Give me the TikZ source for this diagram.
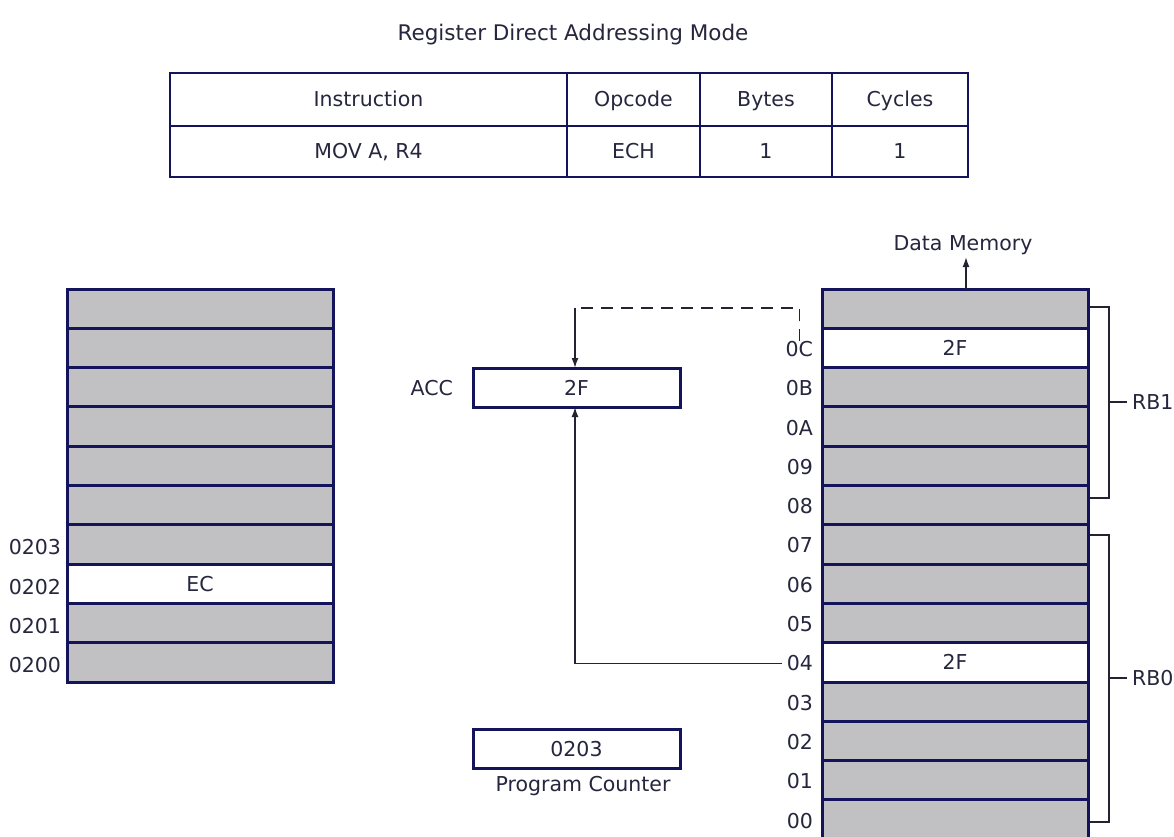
\documentclass[tikz,border=0pt]{standalone}
\usepackage{fontspec}
\setmainfont{DejaVu Sans}
\usetikzlibrary{arrows.meta,calc}
\definecolor{navy}{RGB}{20,20,90}
\definecolor{cellgray}{RGB}{193,193,196}
\definecolor{txt}{RGB}{38,38,62}
\definecolor{wire}{RGB}{35,35,50}
\begin{document}
\begin{tikzpicture}[x=1pt,y=-1pt,
  every node/.style={font=\fontsize{20.5}{24}\selectfont, text=txt, inner sep=0pt, outer sep=0pt, text height=15pt, text depth=0pt},
  tcell/.style={draw=navy, line width=2.8pt, fill=white},
  gcell/.style={draw=navy, line width=3pt, fill=cellgray, minimum width=266pt, minimum height=39.3pt},
  wcell/.style={gcell, fill=white},
  regbox/.style={draw=navy, line width=3pt, fill=white, minimum width=207pt, minimum height=39pt},
  wirel/.style={draw=wire, line width=1.6pt},
  arr/.style={wirel, -{Latex[length=10pt,width=7pt]}}
]
\useasboundingbox[fill=white] (0,0) rectangle (1174,837);

% title
\node[font=\fontsize{21.5}{25}\selectfont] (title) at (573,33) {Register Direct Addressing Mode};

% table
\node[tcell, minimum width=397pt, minimum height=53pt] (h1) at (368.5,99.5) {Instruction};
\node[tcell, minimum width=133pt, minimum height=53pt] (h2) at (633.5,99.5) {Opcode};
\node[tcell, minimum width=132pt, minimum height=53pt] (h3) at (766,99.5) {Bytes};
\node[tcell, minimum width=136pt, minimum height=53pt] (h4) at (900,99.5) {Cycles};
\node[tcell, minimum width=397pt, minimum height=51pt] (r1) at (368.5,151.5) {MOV A, R4};
\node[tcell, minimum width=133pt, minimum height=51pt] (r2) at (633.5,151.5) {ECH};
\node[tcell, minimum width=132pt, minimum height=51pt] (r3) at (766,151.5) {1};
\node[tcell, minimum width=136pt, minimum height=51pt] (r4) at (900,151.5) {1};

% program memory (left)
\foreach \i in {0,...,9} {
  \node[gcell] (m\i) at (200,{289+39.3*(\i+0.5)}) {};
}
\node[wcell] (m7) at (200,{289+39.3*7.5}) {EC};
\foreach \i/\t in {6/0203,7/0202,8/0201,9/0200} {
  \node[anchor=east] (lm\i) at ($(m\i.west)+(-6,3)$) {\t};
}

% data memory (right)
\foreach \j in {0,...,13} {
  \node[gcell] (d\j) at (955,{289+39.3*(\j+0.5)}) {};
}
\node[wcell] (d1) at (955,{289+39.3*1.5}) {2F};
\node[wcell] (d9) at (955,{289+39.3*9.5}) {2F};
\foreach \j/\t in {1/0C,2/0B,3/0A,4/09,5/08,6/07,7/06,8/05,9/04,10/03,11/02,12/01,13/00} {
  \node[anchor=east] (ld\j) at ($(d\j.west)+(-9,1)$) {\t};
}
\node (dm) at (963,243) {Data Memory};
\draw[arr] ([xshift=11pt]d0.north) -- ++(0,-32);

% accumulator
\node[regbox] (acc) at (576.5,387.5) {2F};
\node[anchor=east] (acclbl) at ($(acc.west)+(-20,0)$) {ACC};

% program counter
\node[regbox] (pc) at (576.5,748.5) {0203};
\node (pclbl) at (583,784) {Program Counter};

% dashed path from 0C to ACC
\coordinate (cn) at (575,308);
\draw[wirel, dash pattern=on 12pt off 8pt] (ld1.north) |- (cn);
\draw[arr] (cn) -- (acc.north -| cn);

% solid path from 04 to ACC
\draw[arr] ([xshift=-5pt]ld9.west) -| (acc.south -| cn);

% register bank brackets
\draw[wirel] (1090,307) -- (1109,307) -- (1109,498) -- (1090,498);
\node[anchor=west] (rb1) at (1132,402) {RB1};
\draw[wirel] (1109,402) -- ([xshift=-5pt]rb1.west);
\draw[wirel] (1090,535) -- (1109,535) -- (1109,822) -- (1090,822);
\node[anchor=west] (rb0) at (1132,678) {RB0};
\draw[wirel] (1109,678) -- ([xshift=-5pt]rb0.west);
\end{tikzpicture}
\end{document}
